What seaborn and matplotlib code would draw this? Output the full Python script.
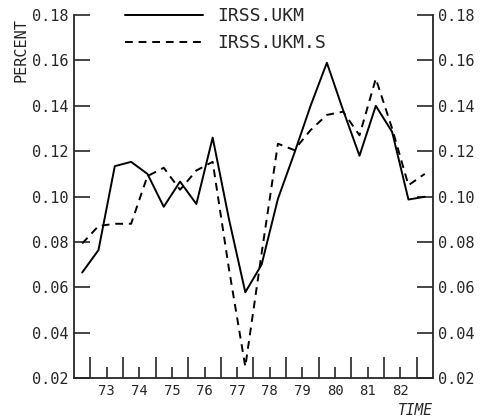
import numpy as np
import pandas as pd
from matplotlib import pyplot as plt
import seaborn as sns

# half-yearly observations, 72.75 .. 83.25
time = [72.75, 73.25, 73.75, 74.25, 74.75, 75.25, 75.75, 76.25, 76.75, 77.25, 77.75,
        78.25, 78.75, 79.25, 79.75, 80.25, 80.75, 81.25, 81.75, 82.25, 82.75, 83.25]
irss_ukm = [0.0665, 0.0764, 0.1134, 0.1153, 0.110, 0.0955, 0.1066, 0.0967, 0.126, 0.090, 0.0578,
            0.070, 0.099, 0.119, 0.140, 0.159, 0.138, 0.118, 0.140, 0.1285, 0.0987, 0.0999]
irss_ukm_s = [0.0793, 0.087, 0.088, 0.088, 0.109, 0.1127, 0.103, 0.1115, 0.1153, 0.068, 0.025,
              0.075, 0.1233, 0.1205, 0.1293, 0.136, 0.1374, 0.127, 0.152, 0.130, 0.105, 0.110]
years = ["73", "74", "75", "76", "77", "78", "79", "80", "81", "82"]

df = pd.DataFrame({
    "TIME": time * 2,
    "PERCENT": irss_ukm + irss_ukm_s,
    "series": ["IRSS.UKM"] * len(time) + ["IRSS.UKM.S"] * len(time),
})

sns.set_style("ticks")
plt.rcParams['font.family'] = ['DejaVu Sans Mono']

fig = plt.figure(figsize=(4.85, 4.2), dpi=100)
ax = fig.add_axes([0.1526, 0.1, 0.74, 0.864])

sns.lineplot(data=df, x="TIME", y="PERCENT", style="series",
             dashes={"IRSS.UKM": "", "IRSS.UKM.S": (4, 3)},
             color="black", linewidth=1.4, ax=ax)

ax.set_xlim(72.5, 83.5)
ax.set_ylim(0.02, 0.18)
ax.set_xlabel("")
ax.set_ylabel("")

# y axis: ticks both sides, pointing in
yt = np.round(np.arange(0.02, 0.181, 0.02), 2)
ax.set_yticks(yt)
ax.set_yticklabels([f"{v:.2f}" for v in yt])
ax.tick_params(axis="y", which="both", direction="in", length=11.5, width=1.2,
               left=True, right=True, labelleft=True, labelright=True,
               labelsize=11, pad=4)

# x axis: long ticks on year boundaries, short labelled ticks mid-year
ax.set_xticks(np.arange(73, 84))
ax.set_xticklabels([])
ax.set_xticks(np.arange(73.5, 83, 1.0), labels=years, minor=True)
ax.tick_params(axis="x", which="major", direction="in", length=15, width=1.2)
ax.tick_params(axis="x", which="minor", direction="in", length=8, width=1.2,
               labelsize=10, pad=4)

for s in ["left", "right", "bottom"]:
    ax.spines[s].set_linewidth(1.3)
ax.spines["top"].set_visible(False)

leg = ax.legend(loc="upper left", bbox_to_anchor=(0.142, 1.022), frameon=False,
                fontsize=13, handlelength=4.3, handletextpad=0.8,
                labelspacing=0.5, borderpad=0, borderaxespad=0, title=None)

fig.text(0.043, 0.88, "PERCENT", rotation=90, ha="center", va="center", fontsize=11)
ax.text(1.0, -0.09, "TIME", transform=ax.transAxes, ha="right", va="center",
        fontsize=10.5, style="italic")

fig.savefig("out.png", dpi=100)
